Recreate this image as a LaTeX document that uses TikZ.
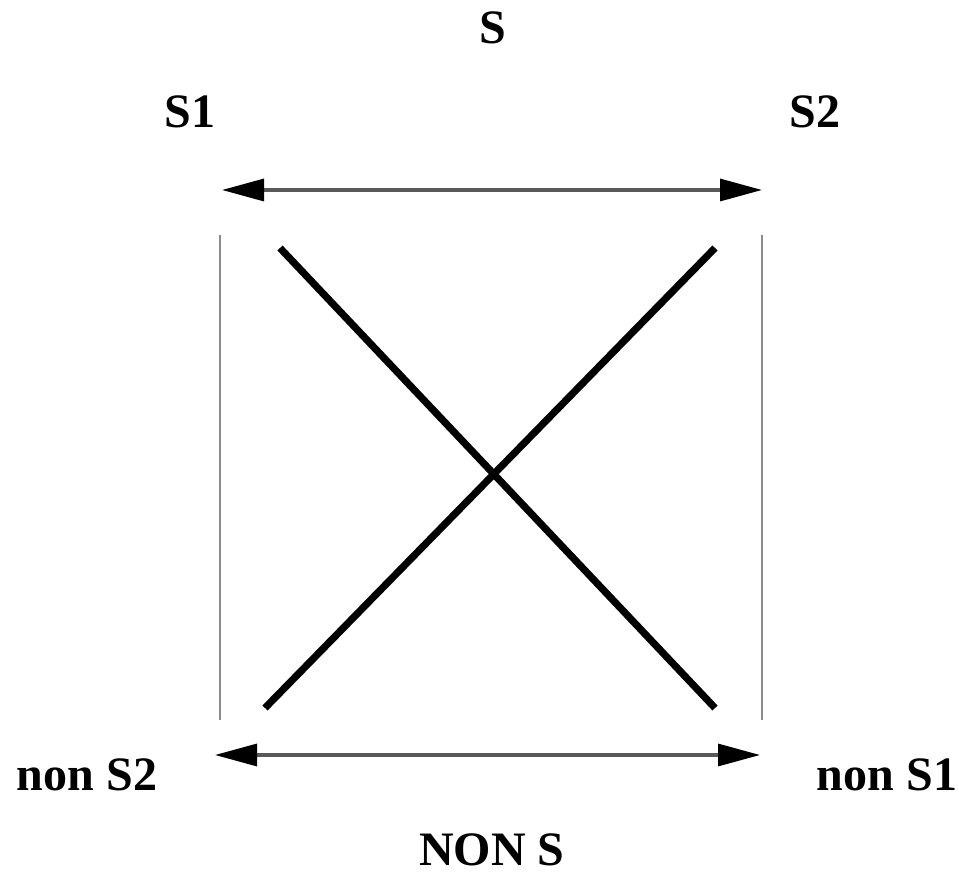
\documentclass[tikz,border=0pt]{standalone}
\usepackage{fontspec}
\setmainfont{Liberation Serif}
\usetikzlibrary{arrows.meta}
\tikzset{
  lbl/.style={font=\fontsize{24}{28}\selectfont\bfseries, inner sep=0pt},
  tip/.style={Triangle[length=21pt, width=11pt, color=black, fill=black]},
  rel/.style={{Triangle[length=21pt, width=11pt, color=black, fill=black]}-{Triangle[length=21pt, width=11pt, color=black, fill=black]}, line width=1.6pt, color=black!65},
  side/.style={line width=0.6pt, color=black!45},
  bar/.style={line width=3.6pt, black},
}

\begin{document}
\begin{tikzpicture}[x=0.5pt, y=-0.5pt]
  \useasboundingbox (0,0) rectangle (959,876);
  % terms
  \node[lbl] (s) at (493,28) {S};
  \node[lbl] (s1) at (190,112) {S1};
  \node[lbl] (s2) at (815,112) {S2};
  \node[lbl] (nons2) at (87,775) {non S2};
  \node[lbl] (nons1) at (887,775) {non S1};
  \node[lbl] (nons) at (492,850) {NON S};
  % arrow ends and corners
  \coordinate (tl) at (222,190);
  \coordinate (tr) at (762,190);
  \coordinate (bl) at (215,755);
  \coordinate (br) at (760,755);
  \draw[rel] (tl) -- (tr);
  \draw[rel] (bl) -- (br);
  % sides
  \draw[side] (220,235) -- (220,720);
  \draw[side] (762,235) -- (762,720);
  % contradictions
  \coordinate (a1) at (280,248);
  \coordinate (a2) at (715,708);
  \coordinate (b1) at (715,248);
  \coordinate (b2) at (265,708);
  \draw[bar] (a1) -- (a2);
  \draw[bar] (b1) -- (b2);
\end{tikzpicture}
\end{document}
